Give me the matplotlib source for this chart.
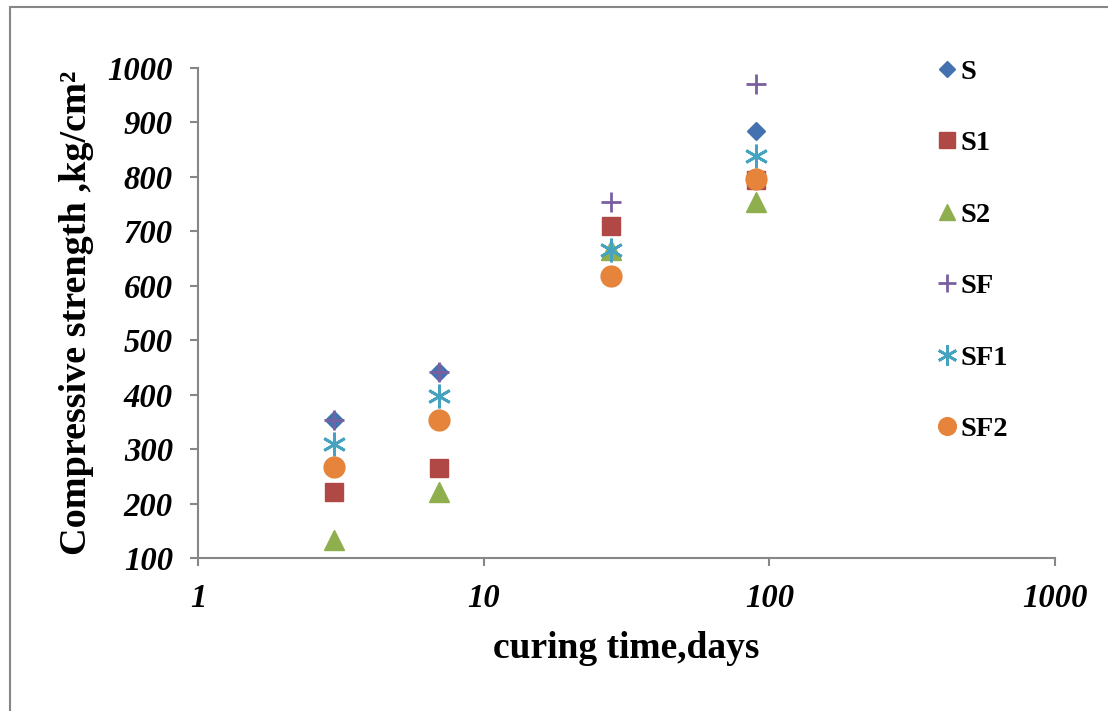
import matplotlib
matplotlib.use("Agg")
import matplotlib.pyplot as plt
from matplotlib.patches import Rectangle

plt.rcParams['font.family'] = ['Liberation Serif', 'DejaVu Serif']

# --- data ---
days = [3, 7, 28, 90]
S = [353, 441, 710, 884]
S1 = [221, 265, 710, 794]
S2 = [133, 221, 666, 754]
SF = [353, 441, 754, 971]
SF1 = [309, 398, 666, 838]
SF2 = [267, 353, 618, 796]

series = [
    ("S", S, "D", "#4472B0", 9.5),
    ("S1", S1, "s", "#B04845", 13),
    ("S2", S2, "^", "#8FAF4E", 14),
    ("SF", SF, "+", "#7A5FA0", 15),
    ("SF1", SF1, (6, 2, 0), "#45A3BF", 17),
    ("SF2", SF2, "o", "#E5843A", 15),
]

fig = plt.figure(figsize=(11.08, 7.11), dpi=100)
ax = fig.add_axes([0.1787, 0.2152, 0.7735, 0.6892])

for name, vals, mk, col, ms in series:
    if mk in ("+", (6, 2, 0)):
        ax.plot(days, vals, linestyle="none", marker=mk, color=col,
                markersize=ms, markeredgewidth=2, label=name)
    else:
        ax.plot(days, vals, linestyle="none", marker=mk, color=col,
                markeredgecolor=col, markersize=ms, label=name)

ax.set_xscale("log")
ax.set_xlim(1, 1000)
ax.set_ylim(100, 1000)
ax.set_yticks(range(100, 1001, 100))
ax.set_xticks([1, 10, 100, 1000])
ax.set_xticklabels(["1", "10", "100", "1000"])
ax.minorticks_off()

for side in ("top", "right"):
    ax.spines[side].set_visible(False)
for side in ("left", "bottom"):
    ax.spines[side].set_color("#868686")
    ax.spines[side].set_linewidth(1.5)

ax.tick_params(axis="both", colors="#868686", width=1.5, length=6,
               labelcolor="black", labelsize=23.5)
ax.tick_params(axis="x", pad=12)
ax.tick_params(axis="y", pad=12)
for lab in ax.get_xticklabels() + ax.get_yticklabels():
    lab.set_fontweight("bold")
    lab.set_fontstyle("italic")

ax.set_xlabel("curing time,days", fontsize=27, fontweight="bold", labelpad=12)
ax.set_ylabel("Compressive strength ,kg/cm²", fontsize=27.5, fontweight="bold", labelpad=10)

fig.legend(loc="upper left", bbox_to_anchor=(936 / 1108, 1 - 59 / 711),
           frameon=False, prop={"size": 20.5, "weight": "bold"},
           labelspacing=1.6, handlelength=0.75, handletextpad=0.1,
           borderpad=0, borderaxespad=0, markerscale=0.85)

# outer frame of the chart area (only top and left are visible in the crop)
fig.patches.append(Rectangle((10 / 1108, -0.1), 1.2, 1 - 7 / 711 + 0.1,
                             transform=fig.transFigure, fill=False,
                             edgecolor="#868686", linewidth=1.5))

fig.savefig("out.png", dpi=100)
